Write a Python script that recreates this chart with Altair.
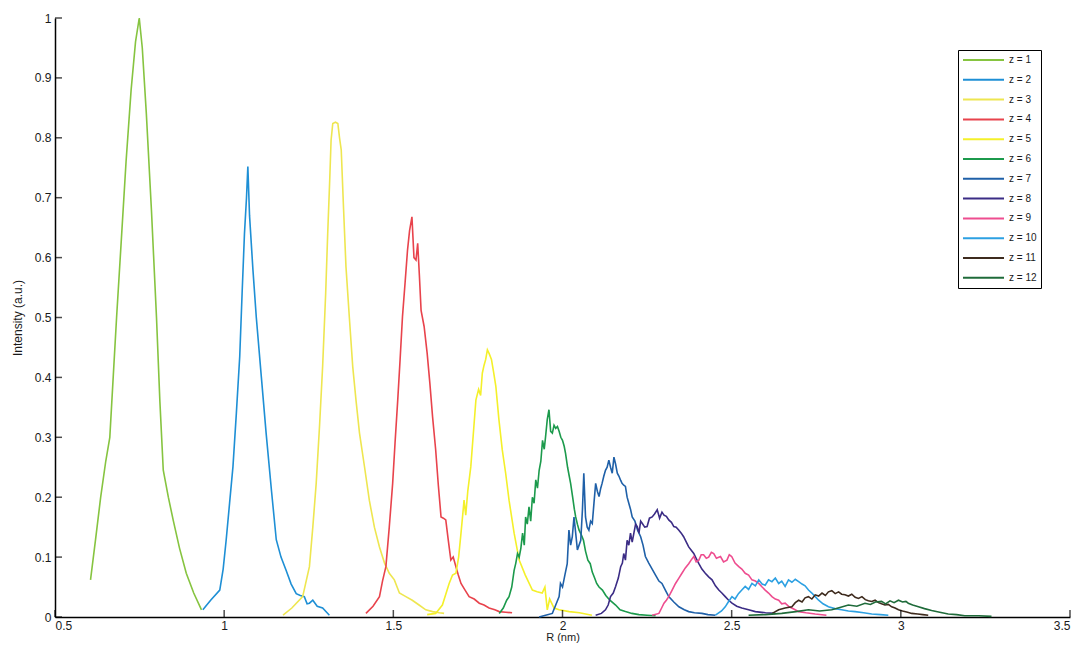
import altair as alt
import pandas as pd

# ---- data (R in nm, intensity a.u.) ----
R1 = [0.605,0.62,0.635,0.65,0.662,0.672,0.682,0.695,0.71,0.725,0.738,0.749,0.758,0.77,0.785,0.80,0.81,0.82,0.835,0.85,0.868,0.888,0.91,0.933]
I1 = [0.062,0.13,0.20,0.26,0.30,0.40,0.50,0.62,0.76,0.88,0.96,1.0,0.95,0.84,0.68,0.50,0.36,0.245,0.20,0.16,0.115,0.073,0.04,0.012]

R2 = [0.937,0.96,0.987,0.997,1.006,1.016,1.026,1.036,1.046,1.053,1.06,1.066,1.070,1.075,1.085,1.095,1.11,1.124,1.14,1.154,1.168,1.183,1.198,1.213,1.225,1.237,1.245,1.252,1.262,1.275,1.291,1.311]
I2 = [0.012,0.028,0.045,0.08,0.129,0.19,0.251,0.34,0.435,0.54,0.64,0.70,0.752,0.67,0.58,0.50,0.40,0.307,0.21,0.129,0.10,0.078,0.055,0.039,0.036,0.034,0.022,0.023,0.028,0.018,0.015,0.003]

R3 = [1.174,1.20,1.232,1.252,1.262,1.272,1.282,1.291,1.30,1.306,1.312,1.316,1.321,1.329,1.336,1.341,1.346,1.353,1.36,1.37,1.38,1.39,1.40,1.415,1.429,1.444,1.459,1.474,1.488,1.503,1.518,1.537,1.556,1.576,1.596,1.616,1.636,1.65]
I3 = [0.003,0.015,0.034,0.084,0.15,0.223,0.32,0.418,0.54,0.64,0.73,0.796,0.824,0.826,0.824,0.80,0.78,0.68,0.585,0.50,0.418,0.36,0.307,0.25,0.195,0.15,0.117,0.09,0.073,0.062,0.04,0.034,0.028,0.02,0.012,0.009,0.007,0.006]

R4 = [1.419,1.44,1.459,1.468,1.478,1.488,1.498,1.505,1.513,1.52,1.527,1.535,1.542,1.548,1.555,1.561,1.567,1.572,1.577,1.582,1.591,1.60,1.608,1.616,1.625,1.633,1.641,1.648,1.655,1.662,1.670,1.677,1.685,1.692,1.70,1.712,1.724,1.739,1.754,1.768,1.783,1.80,1.813,1.832,1.851]
I4 = [0.006,0.018,0.034,0.06,0.084,0.15,0.223,0.29,0.362,0.43,0.501,0.56,0.613,0.645,0.668,0.60,0.596,0.624,0.57,0.512,0.485,0.44,0.39,0.334,0.28,0.22,0.167,0.165,0.162,0.13,0.095,0.10,0.084,0.07,0.056,0.045,0.034,0.03,0.023,0.02,0.015,0.012,0.009,0.008,0.007]

R5 = [1.60,1.625,1.645,1.665,1.675,1.685,1.693,1.70,1.705,1.709,1.714,1.72,1.729,1.737,1.744,1.752,1.758,1.763,1.768,1.773,1.778,1.783,1.79,1.796,1.803,1.812,1.822,1.832,1.842,1.857,1.872,1.89,1.911,1.925,1.94,1.948,1.955,1.962,1.975,1.99,2.02,2.05,2.087]
I5 = [0.004,0.006,0.02,0.056,0.07,0.073,0.10,0.14,0.17,0.195,0.17,0.21,0.251,0.31,0.362,0.38,0.37,0.407,0.42,0.43,0.446,0.44,0.43,0.41,0.385,0.33,0.279,0.24,0.195,0.14,0.095,0.07,0.045,0.042,0.04,0.05,0.012,0.03,0.015,0.012,0.009,0.007,0.003]

R6 = [1.813,1.825,1.835,1.842,1.85,1.857,1.862,1.867,1.872,1.877,1.882,1.887,1.891,1.896,1.901,1.906,1.911,1.916,1.921,1.926,1.931,1.936,1.941,1.946,1.95,1.955,1.96,1.965,1.97,1.975,1.98,1.985,1.99,1.995,2.0,2.005,2.009,2.015,2.02,2.024,2.03,2.035,2.039,2.044,2.049,2.055,2.062,2.068,2.075,2.082,2.088,2.095,2.101,2.108,2.118,2.128,2.14,2.157,2.17,2.186,2.205,2.226,2.25,2.275]
I6 = [0.006,0.015,0.028,0.034,0.05,0.078,0.09,0.106,0.10,0.115,0.14,0.12,0.167,0.155,0.184,0.16,0.20,0.19,0.229,0.215,0.245,0.26,0.295,0.28,0.301,0.33,0.346,0.31,0.307,0.32,0.315,0.318,0.31,0.30,0.295,0.285,0.273,0.25,0.235,0.223,0.2,0.18,0.167,0.155,0.145,0.138,0.128,0.11,0.095,0.089,0.075,0.065,0.056,0.05,0.045,0.036,0.028,0.02,0.012,0.009,0.006,0.004,0.003,0.002]

R7 = [1.931,1.95,1.97,1.98,1.99,1.994,2.0,2.007,2.014,2.019,2.024,2.029,2.034,2.039,2.044,2.049,2.054,2.059,2.063,2.068,2.073,2.078,2.083,2.088,2.093,2.098,2.103,2.108,2.113,2.117,2.122,2.127,2.132,2.137,2.142,2.147,2.152,2.157,2.162,2.167,2.172,2.176,2.181,2.186,2.191,2.196,2.201,2.206,2.214,2.222,2.231,2.238,2.245,2.255,2.265,2.275,2.285,2.294,2.304,2.314,2.329,2.344,2.36,2.373,2.39,2.412,2.43,2.452]
I7 = [0.0,0.003,0.006,0.02,0.034,0.056,0.05,0.07,0.089,0.145,0.12,0.134,0.167,0.14,0.112,0.12,0.128,0.18,0.240,0.167,0.15,0.145,0.16,0.156,0.19,0.223,0.21,0.201,0.215,0.223,0.235,0.245,0.25,0.262,0.25,0.24,0.267,0.255,0.240,0.235,0.228,0.223,0.22,0.218,0.20,0.190,0.18,0.167,0.16,0.145,0.134,0.12,0.101,0.09,0.08,0.07,0.06,0.056,0.045,0.034,0.025,0.017,0.012,0.009,0.007,0.006,0.004,0.003]

R8 = [2.098,2.115,2.127,2.135,2.142,2.15,2.157,2.165,2.172,2.177,2.181,2.186,2.191,2.196,2.201,2.206,2.211,2.216,2.221,2.226,2.231,2.236,2.243,2.25,2.257,2.265,2.272,2.28,2.287,2.294,2.30,2.307,2.314,2.322,2.329,2.336,2.344,2.351,2.358,2.366,2.373,2.38,2.388,2.395,2.403,2.412,2.422,2.432,2.442,2.452,2.462,2.471,2.481,2.491,2.501,2.515,2.53,2.55,2.57,2.6,2.629]
I8 = [0.003,0.006,0.012,0.02,0.034,0.04,0.051,0.065,0.084,0.09,0.106,0.095,0.128,0.12,0.14,0.125,0.14,0.155,0.151,0.14,0.16,0.156,0.15,0.151,0.165,0.167,0.172,0.179,0.165,0.175,0.170,0.168,0.162,0.158,0.151,0.15,0.145,0.14,0.134,0.125,0.117,0.112,0.106,0.098,0.089,0.08,0.073,0.067,0.062,0.052,0.045,0.04,0.034,0.028,0.023,0.018,0.015,0.012,0.009,0.007,0.006]

R9 = [2.265,2.285,2.293,2.30,2.307,2.314,2.324,2.334,2.344,2.353,2.363,2.373,2.38,2.388,2.395,2.403,2.41,2.417,2.425,2.432,2.44,2.447,2.455,2.467,2.476,2.486,2.493,2.50,2.51,2.521,2.53,2.54,2.55,2.56,2.57,2.58,2.59,2.599,2.609,2.619,2.629,2.639,2.648,2.658,2.67,2.685,2.698,2.72,2.747,2.78]
I9 = [0.003,0.006,0.015,0.023,0.028,0.034,0.045,0.056,0.065,0.073,0.082,0.089,0.095,0.101,0.092,0.095,0.104,0.104,0.098,0.10,0.108,0.106,0.098,0.101,0.092,0.095,0.104,0.101,0.09,0.084,0.08,0.073,0.07,0.062,0.06,0.056,0.05,0.045,0.04,0.034,0.03,0.028,0.022,0.023,0.017,0.013,0.009,0.007,0.005,0.003]

R10 = [2.452,2.47,2.481,2.49,2.501,2.51,2.52,2.53,2.54,2.55,2.56,2.57,2.58,2.59,2.599,2.609,2.619,2.629,2.639,2.648,2.658,2.668,2.678,2.688,2.698,2.708,2.717,2.727,2.737,2.747,2.757,2.77,2.786,2.805,2.825,2.845,2.865,2.89,2.914,2.94,2.963]
I10 = [0.003,0.01,0.017,0.025,0.034,0.03,0.039,0.045,0.051,0.046,0.056,0.052,0.062,0.055,0.053,0.062,0.059,0.065,0.056,0.06,0.051,0.062,0.058,0.063,0.059,0.055,0.052,0.045,0.04,0.034,0.028,0.022,0.017,0.014,0.012,0.01,0.009,0.007,0.005,0.004,0.003]

R11 = [2.62,2.639,2.658,2.678,2.688,2.698,2.708,2.717,2.727,2.737,2.747,2.757,2.767,2.777,2.786,2.796,2.806,2.816,2.825,2.835,2.845,2.855,2.865,2.875,2.885,2.895,2.904,2.914,2.924,2.934,2.943,2.953,2.963,2.973,2.983,2.993,3.005,3.02,3.032,3.05,3.065,3.081]
I11 = [0.006,0.012,0.015,0.017,0.024,0.028,0.025,0.032,0.034,0.03,0.037,0.035,0.04,0.036,0.042,0.044,0.039,0.042,0.038,0.037,0.035,0.038,0.033,0.031,0.034,0.029,0.027,0.026,0.028,0.024,0.022,0.02,0.021,0.017,0.015,0.012,0.01,0.008,0.006,0.005,0.004,0.003]

R12 = [2.55,2.6,2.648,2.69,2.727,2.76,2.796,2.82,2.845,2.87,2.894,2.91,2.925,2.943,2.955,2.968,2.98,2.993,3.005,3.015,3.022,3.035,3.052,3.07,3.091,3.115,3.14,3.165,3.189,3.23,3.268]
I12 = [0.003,0.004,0.006,0.009,0.012,0.01,0.012,0.016,0.02,0.018,0.023,0.021,0.025,0.026,0.022,0.027,0.024,0.028,0.025,0.026,0.023,0.02,0.017,0.014,0.011,0.008,0.005,0.004,0.002,0.002,0.001]

SERIES = ["z = 1","z = 2","z = 3","z = 4","z = 5","z = 6","z = 7","z = 8","z = 9","z = 10","z = 11","z = 12"]
COLORS = ["#86c440","#1e8fd5","#eee650","#e8434c","#f4f02a","#1c9a4c","#1f60a8","#3b2c85","#ee4d8f","#2ca0e2","#3e2b1e","#1f6b3a"]
X_TICKS = [0.5,1,1.5,2,2.5,3,3.5]
Y_TICKS = [0,0.1,0.2,0.3,0.4,0.5,0.6,0.7,0.8,0.9,1]

RS = [R1,R2,R3,R4,R5,R6,R7,R8,R9,R10,R11,R12]
IS = [I1,I2,I3,I4,I5,I6,I7,I8,I9,I10,I11,I12]

rows = []
for k, (name, rr, ii) in enumerate(zip(SERIES, RS, IS)):
    for j, (a, b) in enumerate(zip(rr, ii)):
        rows.append({"R": a, "I": b, "z": name, "k": k, "j": j})
df = pd.DataFrame(rows)

FONT = "Liberation Sans"
TXT = "#1a1a1a"

xscale = alt.Scale(domain=[0.5, 3.5], nice=False, zero=False)
yscale = alt.Scale(domain=[0, 1], nice=False)

lines = alt.Chart(df).mark_line(strokeWidth=1.6, interpolate="linear").encode(
    x=alt.X("R:Q", scale=xscale, title="R (nm)",
            axis=alt.Axis(values=X_TICKS, format="~g", grid=False, ticks=False, tickSize=0,
                          domainColor="black", domainWidth=1.5, labelFont=FONT, labelFontSize=12,
                          labelColor=TXT, labelPadding=3, titleFont=FONT, titleFontSize=11,
                          titleFontWeight="normal", titleColor=TXT, titlePadding=0)),
    y=alt.Y("I:Q", scale=yscale, title="Intensity (a.u.)",
            axis=alt.Axis(values=Y_TICKS, format="~g", grid=False, ticks=False, tickSize=0,
                          domainColor="black", domainWidth=1.5, labelFont=FONT, labelFontSize=12,
                          labelColor=TXT, labelPadding=4, titleFont=FONT, titleFontSize=12,
                          titleFontWeight="normal", titleColor=TXT, titlePadding=10)),
    color=alt.Color("z:N", sort=SERIES, scale=alt.Scale(domain=SERIES, range=COLORS),
                    legend=alt.Legend(orient="none", legendX=903, legendY=32, title=None,
                                      symbolType="stroke", symbolSize=1681, symbolStrokeWidth=2,
                                      labelFont=FONT, labelFontSize=10, labelColor=TXT,
                                      labelOffset=4, strokeColor="black", fillColor="white",
                                      padding=4, rowPadding=7.8, clipHeight=12)),
    detail="k:O",
    order="j:Q",
)

xt = alt.Chart(pd.DataFrame({"t": X_TICKS})).mark_tick(
    orient="vertical", size=7, thickness=1.5, color="black", yOffset=-3.5
).encode(x=alt.X("t:Q", scale=xscale), y=alt.datum(0))

yt = alt.Chart(pd.DataFrame({"t": Y_TICKS})).mark_tick(
    orient="horizontal", size=7, thickness=1.5, color="black", xOffset=3.5
).encode(y=alt.Y("t:Q", scale=yscale), x=alt.datum(0.5))

chart = alt.layer(lines, xt, yt).properties(
    width=1015, height=599,
    padding={"left": 47, "top": 10, "right": 3, "bottom": 27},
    autosize=alt.AutoSizeParams(type="none"),
    background="white",
).configure_view(stroke=None)

chart.save("out.html", embed_options={"renderer": "svg", "actions": False})
